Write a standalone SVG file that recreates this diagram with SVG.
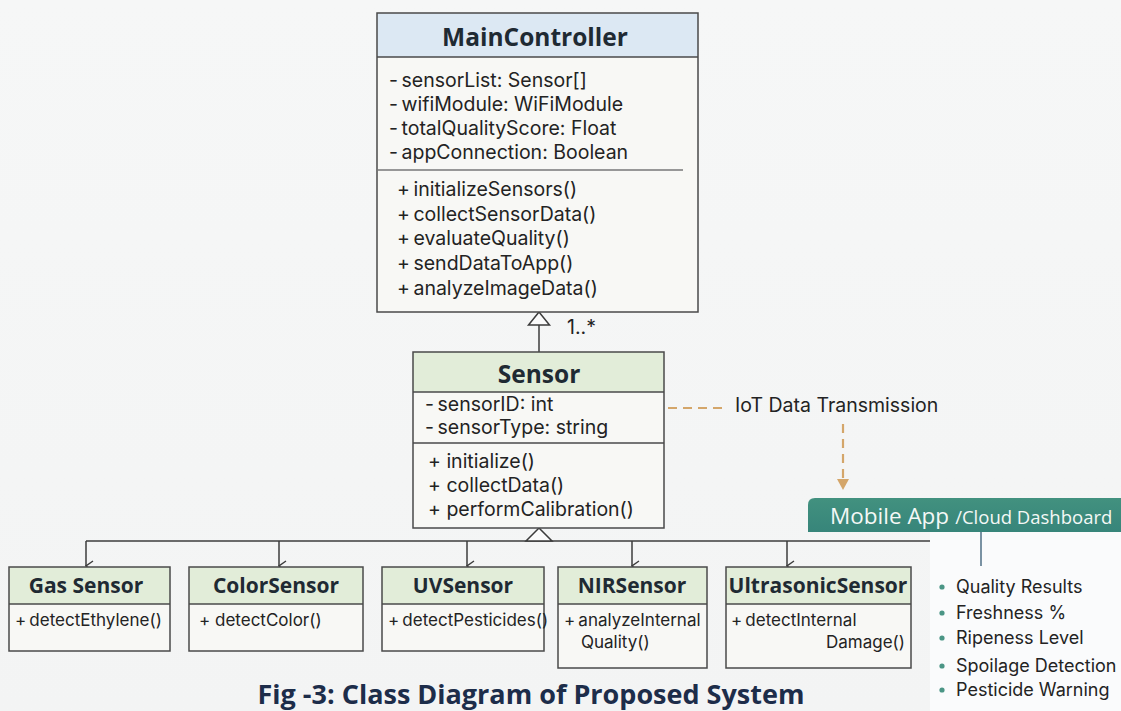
<svg xmlns="http://www.w3.org/2000/svg" width="1121" height="711" viewBox="0 0 1121 711">
  <defs>
    <style>
      .body { fill: #f8f8f5; }
      .outline { fill: none; stroke: #4a4a4a; stroke-width: 1.5; }
      .rule { stroke: #4a4a4a; stroke-width: 1.3; }
      .hdr-blue { fill: #dce8f3; }
      .hdr-green { fill: #e2edd9; }
      .title { font-family: "Open Sans", "Liberation Sans", sans-serif; font-weight: 700; fill: #1f2a33; text-anchor: middle; }
      .item { font-family: Inter, "Open Sans", "Liberation Sans", sans-serif; font-size: 19.5px; fill: #232323; }
      .sub { font-family: Inter, "Open Sans", "Liberation Sans", sans-serif; font-size: 17px; fill: #232323; }
      .list { font-family: Inter, "Open Sans", "Liberation Sans", sans-serif; font-size: 18px; fill: #232323; }
      .wire { fill: none; stroke: #3c3c3c; stroke-width: 1.5; }
      .hollow { fill: #fbfbfb; stroke: #3c3c3c; stroke-width: 1.5; stroke-linejoin: miter; }
      .iot { fill: none; stroke: #d4a66a; stroke-width: 2.2; stroke-dasharray: 9 6; }
      .bullet { fill: #4a9585; }
    </style>
    <marker id="open-arrow" viewBox="0 0 12 12" refX="6" refY="11" markerWidth="12" markerHeight="12" markerUnits="userSpaceOnUse" orient="auto-start-reverse">
      <path d="M1,4 L6,11 L11,4" fill="none" stroke="#3c3c3c" stroke-width="1.4"/>
    </marker>
    <linearGradient id="bg" x1="0" y1="0" x2="0" y2="1">
      <stop offset="0" stop-color="#f6f7f7"/>
      <stop offset="1" stop-color="#f3f4f4"/>
    </linearGradient>
    <linearGradient id="teal" x1="0" y1="0" x2="0" y2="1">
      <stop offset="0" stop-color="#42917f"/>
      <stop offset="1" stop-color="#37857a"/>
    </linearGradient>
  </defs>

  <rect x="0" y="0" width="1121" height="711" fill="url(#bg)"/>

  <!-- connectors -->
  <g id="connectors">
    <!-- Sensor to MainController, hollow triangle -->
    <line class="wire" x1="539" y1="325" x2="539" y2="352"/>
    <path class="hollow" d="M539,312 L549.5,325 L528.5,325 Z"/>
    <text class="item" x="567" y="334" font-size="16">1..*</text>

    <!-- subclass bus -->
    <line class="wire" x1="86" y1="541" x2="981" y2="541"/>
    <path class="hollow" d="M539,528 L552,541 L526,541 Z"/>
    <line class="wire" x1="86" y1="541" x2="86" y2="566" marker-end="url(#open-arrow)"/>
    <line class="wire" x1="279" y1="541" x2="279" y2="566" marker-end="url(#open-arrow)"/>
    <line class="wire" x1="467" y1="541" x2="467" y2="566" marker-end="url(#open-arrow)"/>
    <line class="wire" x1="632" y1="541" x2="632" y2="566" marker-end="url(#open-arrow)"/>
    <line class="wire" x1="787" y1="541" x2="787" y2="566" marker-end="url(#open-arrow)"/>

    <!-- IoT data transmission -->
    <line class="iot" x1="668" y1="408" x2="728" y2="408"/>
    <line class="iot" x1="843" y1="424" x2="843" y2="480"/>
    <path d="M837,479 L849,479 L843,490 Z" fill="#d4a66a"/>
  </g>

  <!-- results panel under the dashboard header -->
  <g id="ResultsPanel">
    <rect x="930" y="532" width="191" height="179" fill="#fafbfc"/>
    <line x1="981" y1="532" x2="981" y2="566" stroke="#4f6f86" stroke-width="1.5"/>
    <circle class="bullet" cx="942" cy="587" r="2.6"/>
    <text class="list" x="956" y="593">Quality Results</text>
    <circle class="bullet" cx="942" cy="613" r="2.6"/>
    <text class="list" x="956" y="619">Freshness %</text>
    <circle class="bullet" cx="942" cy="638" r="2.6"/>
    <text class="list" x="956" y="644">Ripeness Level</text>
    <circle class="bullet" cx="942" cy="666" r="2.6"/>
    <text class="list" x="956" y="672">Spoilage Detection</text>
    <circle class="bullet" cx="942" cy="690" r="2.6"/>
    <text class="list" x="956" y="696">Pesticide Warning</text>
  </g>

  <!-- MainController -->
  <g id="MainController">
    <rect class="body" x="377" y="13" width="321" height="299"/>
    <rect class="hdr-blue" x="377" y="13" width="321" height="44"/>
    <rect class="outline" x="377" y="13" width="321" height="299"/>
    <line class="rule" x1="377" y1="57" x2="698" y2="57"/>
    <text class="title" x="535" y="46" font-size="24.5">MainController</text>
    <text class="item" x="389" y="87">-&#8201;sensorList: Sensor[]</text>
    <text class="item" x="389" y="111">-&#8201;wifiModule: WiFiModule</text>
    <text class="item" x="389" y="135">-&#8201;totalQualityScore: Float</text>
    <text class="item" x="389" y="159">-&#8201;appConnection: Boolean</text>
    <line x1="378" y1="170" x2="683" y2="170" stroke="#777" stroke-width="1.3"/>
    <text class="item" x="397" y="196">+&#8201;initializeSensors()</text>
    <text class="item" x="397" y="221">+&#8201;collectSensorData()</text>
    <text class="item" x="397" y="245">+&#8201;evaluateQuality()</text>
    <text class="item" x="397" y="270">+&#8201;sendDataToApp()</text>
    <text class="item" x="397" y="295">+&#8201;analyzeImageData()</text>
  </g>

  <!-- Sensor -->
  <g id="Sensor">
    <rect class="body" x="413" y="352" width="251" height="176"/>
    <rect class="hdr-green" x="413" y="352" width="251" height="40"/>
    <rect class="outline" x="413" y="352" width="251" height="176"/>
    <line class="rule" x1="413" y1="392" x2="664" y2="392"/>
    <line class="rule" x1="413" y1="443" x2="664" y2="443"/>
    <text class="title" x="539" y="383" font-size="24.5">Sensor</text>
    <text class="item" x="425" y="411">-&#8201;sensorID: int</text>
    <text class="item" x="425" y="434">-&#8201;sensorType: string</text>
    <text class="item" x="428" y="468">+ initialize()</text>
    <text class="item" x="428" y="492">+ collectData()</text>
    <text class="item" x="428" y="516">+ performCalibration()</text>
  </g>

  <!-- IoT label -->
  <g id="IoTLabel">
    <text class="item" x="735" y="412">IoT Data Transmission</text>
  </g>

  <!-- Mobile App / Cloud Dashboard -->
  <g id="MobileApp">
    <path d="M808,532 L808,505 Q808,498 815,498 L1121,498 L1121,532 Z" fill="url(#teal)"/>
    <text x="830" y="524" font-family="Open Sans, Liberation Sans, sans-serif" fill="#f4f8f6"><tspan font-size="22.5">Mobile App</tspan><tspan font-size="18.5" dx="6">/Cloud Dashboard</tspan></text>
  </g>

  <!-- subclasses -->
  <g id="GasSensor">
    <rect class="body" x="9" y="567" width="161" height="84"/>
    <rect class="hdr-green" x="9" y="567" width="161" height="37"/>
    <rect class="outline" x="9" y="567" width="161" height="84"/>
    <line class="rule" x1="9" y1="604" x2="170" y2="604"/>
    <text class="title" x="86" y="593" font-size="21">Gas Sensor</text>
    <text class="sub" x="15" y="626">+&#8201;detectEthylene()</text>
  </g>

  <g id="ColorSensor">
    <rect class="body" x="189" y="567" width="174" height="84"/>
    <rect class="hdr-green" x="189" y="567" width="174" height="37"/>
    <rect class="outline" x="189" y="567" width="174" height="84"/>
    <line class="rule" x1="189" y1="604" x2="363" y2="604"/>
    <text class="title" x="276" y="593" font-size="21">ColorSensor</text>
    <text class="sub" x="199" y="626">+ detectColor()</text>
  </g>

  <g id="UVSensor">
    <rect class="body" x="382" y="567" width="162" height="84"/>
    <rect class="hdr-green" x="382" y="567" width="162" height="37"/>
    <rect class="outline" x="382" y="567" width="162" height="84"/>
    <line class="rule" x1="382" y1="604" x2="544" y2="604"/>
    <text class="title" x="463" y="593" font-size="21">UVSensor</text>
    <text class="sub" x="388" y="626" font-size="16.3">+&#8201;detectPesticides()</text>
  </g>

  <g id="NIRSensor">
    <rect class="body" x="558" y="567" width="149" height="101"/>
    <rect class="hdr-green" x="558" y="567" width="149" height="37"/>
    <rect class="outline" x="558" y="567" width="149" height="101"/>
    <line class="rule" x1="558" y1="604" x2="707" y2="604"/>
    <text class="title" x="632" y="593" font-size="21">NIRSensor</text>
    <text class="sub" x="564" y="626">+&#8201;analyzeInternal</text>
    <text class="sub" x="581" y="648">Quality()</text>
  </g>

  <g id="UltrasonicSensor">
    <rect class="body" x="726" y="567" width="185" height="101"/>
    <rect class="hdr-green" x="726" y="567" width="185" height="37"/>
    <rect class="outline" x="726" y="567" width="185" height="101"/>
    <line class="rule" x1="726" y1="604" x2="911" y2="604"/>
    <text class="title" x="818" y="593" font-size="21">UltrasonicSensor</text>
    <text class="sub" x="731" y="626">+&#8201;detectInternal</text>
    <text class="sub" x="905" y="648" text-anchor="end">Damage()</text>
  </g>

  <!-- caption -->
  <g id="Caption">
    <text x="531" y="704" font-family="Open Sans, Liberation Sans, sans-serif" font-weight="700" font-size="27" fill="#1d2d4a" text-anchor="middle">Fig -3: Class Diagram of Proposed System</text>
  </g>
</svg>
